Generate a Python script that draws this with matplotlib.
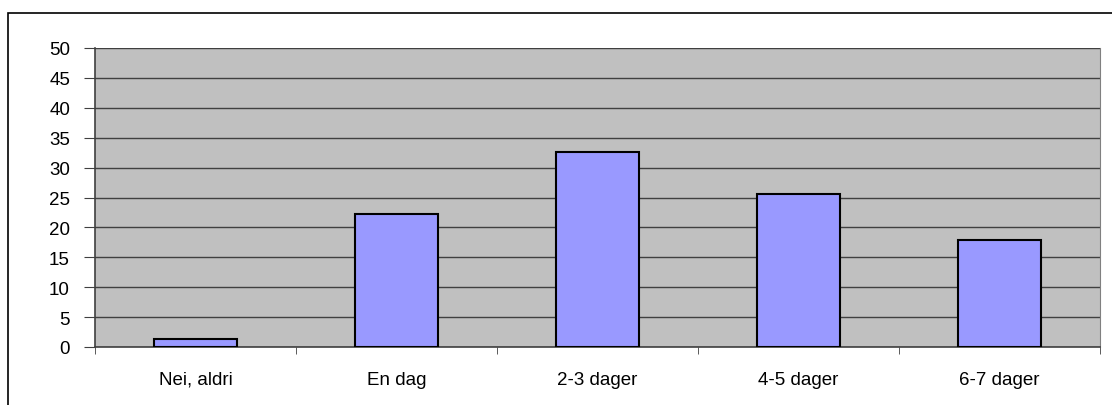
import matplotlib
matplotlib.use("Agg")
import matplotlib.pyplot as plt
from matplotlib.patches import Rectangle

categories = ["Nei, aldri", "En dag", "2-3 dager", "4-5 dager", "6-7 dager"]
values = [1.3, 22.2, 32.6, 25.6, 17.9]
yticks = [0, 5, 10, 15, 20, 25, 30, 35, 40, 45, 50]

plt.rcParams['font.family'] = ['Liberation Sans', 'DejaVu Sans']

fig = plt.figure(figsize=(11.12, 4.06), dpi=100)
fig.patch.set_facecolor('white')
# outer chart frame
fig.patches.append(Rectangle((8/1112, -0.05), 1.2, (406-14)/406 + 0.05,
                             transform=fig.transFigure, fill=False,
                             edgecolor='black', linewidth=1.2))

ax = fig.add_axes([95/1112, 58/406, (1100-95)/1112, (348-49)/406])
ax.set_facecolor('#C0C0C0')
x = list(range(len(categories)))
ax.bar(x, values, width=0.41, color='#9999FF', edgecolor='black', linewidth=1.5, zorder=3)
ax.set_xlim(-0.5, len(categories) - 0.5)
ax.set_ylim(0, 50)
ax.set_yticks(yticks)
ax.set_yticklabels([str(t) for t in yticks], fontsize=13.5)
ax.yaxis.grid(True, color='#404040', linewidth=1.0, zorder=1)
ax.set_axisbelow(True)
ax.set_xticks(x)
ax.set_xticklabels(categories, fontsize=13.5)
ax.tick_params(axis='x', length=0, pad=17)
ax.set_xticks([i + 0.5 for i in range(-1, len(categories))], minor=True)
ax.tick_params(axis='x', which='minor', length=5, color='#404040', direction='out')
ax.tick_params(axis='y', length=8, color='#404040', direction='out', pad=10)
for s in ['top']:
    ax.spines[s].set_visible(False)
ax.spines['left'].set_color('#404040')
ax.spines['bottom'].set_color('#404040')
ax.spines['right'].set_color('#808080')
ax.spines['left'].set_linewidth(1.2)
ax.spines['bottom'].set_linewidth(1.2)

fig.savefig('out.png', dpi=100)
